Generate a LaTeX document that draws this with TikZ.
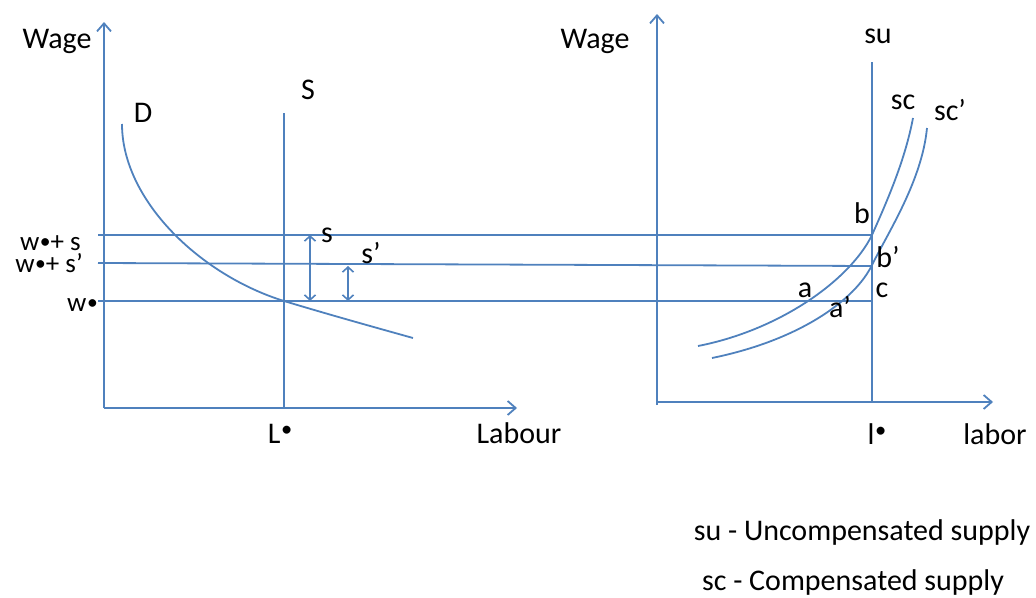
\documentclass[tikz,border=0pt]{standalone}
\usepackage{fontspec}
\setmainfont{Carlito}
\usetikzlibrary{arrows.meta}
\definecolor{lineblue}{RGB}{79,129,189}
\newcommand{\wstar}{w\kern0.02em\raisebox{0.04em}{\scalebox{0.8}{\textbullet}}}
\newcommand{\capstar}{\kern0.02em\raisebox{0.22em}{\scalebox{0.75}{\textbullet}}}

\begin{document}
\begin{tikzpicture}[
    x=1pt, y=-1pt,
    axis/.style={line width=1.8pt, lineblue, -{Straight Barb[length=8pt,width=14pt]}},
    curve/.style={line width=1.8pt, lineblue},
    level/.style={line width=1.8pt, lineblue},
    gap/.style={line width=1.6pt, lineblue, {Straight Barb[length=5pt,width=11pt]}-{Straight Barb[length=5pt,width=11pt]}},
    lbl/.style={font=\fontsize{30}{36}\selectfont, inner sep=0pt, anchor=base},
    wlbl/.style={font=\fontsize{27}{32}\selectfont, inner sep=0pt, anchor=base east},
]
\useasboundingbox (0,0) rectangle (1036,597);

% ---- wage levels ----
\def\yS{235}   % w* + s
\def\ySp{263}  % w* + s'
\def\yW{301}   % w*

% ---- left panel: market ----
\coordinate (O1) at (104,408);
\coordinate (Y1) at (104,22);
\coordinate (X1) at (517,408);
\coordinate (Stop) at (284,113);
\coordinate (Sbot) at (284,408);

\draw[axis] (O1) -- (Y1);
\draw[axis] (O1) -- (X1);
\draw[curve] (Stop) -- (Sbot);

% demand
\draw[curve] (122,124) .. controls (122,200) and (200,275) .. (284,\yW)
  .. controls (327,314) and (370,326) .. (413,338);

% ---- right panel: household ----
\coordinate (O2) at (657,405);
\coordinate (Y2) at (657,14);
\coordinate (X2a) at (657,402);
\coordinate (X2) at (993,402);
\coordinate (SUtop) at (872,62);
\coordinate (SUbot) at (872,402);

\draw[axis] (O2) -- (Y2);
\draw[axis] (X2a) -- (X2);
\draw[curve] (SUtop) -- (SUbot);

% compensated supply, before and after
\draw[curve] (698,346) .. controls (780,330) and (850,280) .. (872,\yS)
  .. controls (888,199) and (905,160) .. (913,118);
\draw[curve] (712,358) .. controls (800,340) and (855,300) .. (872,265)
  .. controls (889,231) and (922,180) .. (927,128);

% ---- levels across both panels ----
\draw[level] (98,\yS) -- (872,\yS);
\draw[level] (98,\ySp) -- (872,266);
\draw[level] (98,\yW) -- (872,\yW);

% ---- gaps ----
\coordinate (g1t) at (310,\yS);
\coordinate (g1b) at (310,\yW);
\coordinate (g2t) at (348,266);
\coordinate (g2b) at (348,\yW);
\draw[gap] (g1t) -- (g1b);
\draw[gap] (g2t) -- (g2b);

% ---- labels ----
\node[lbl] (wage1) at (57,48) {Wage};
\node[lbl] (wage2) at (595,48) {Wage};
\node[lbl] (dlab) at (143,122) {D};
\node[lbl] (slab) at (308,99) {S};
\node[wlbl] (wpls) at (81,250) {\wstar+ s};
\node[wlbl] (wplsp) at (83,272) {\wstar+ s’};
\node[wlbl] (wlab) at (98,311) {\wstar};
\node[lbl] (gs) at (327,242) {s};
\node[lbl] (gsp) at (371,263) {s’};
\node[lbl] (Lstar) at (280,443) {L\capstar};
\node[lbl] (labour) at (519,443) {Labour};

\node[lbl] (su) at (878,43) {su};
\node[lbl] (sc) at (903,109) {sc};
\node[lbl] (scp) at (950,120) {sc’};
\node[lbl] (pb) at (862,223) {b};
\node[lbl] (pbp) at (888,267) {b’};
\node[lbl] (pc) at (882,297) {c};
\node[lbl] (pa) at (805,297) {a};
\node[lbl] (pap) at (840,317) {a’};
\node[lbl] (lstar) at (877,444) {l\capstar};
\node[lbl] (labor) at (995,444) {labor};

% ---- legend ----
\node[lbl] (leg1) at (862,540) {su - Uncompensated supply};
\node[lbl] (leg2) at (853,590) {sc - Compensated supply};

\end{tikzpicture}
\end{document}
